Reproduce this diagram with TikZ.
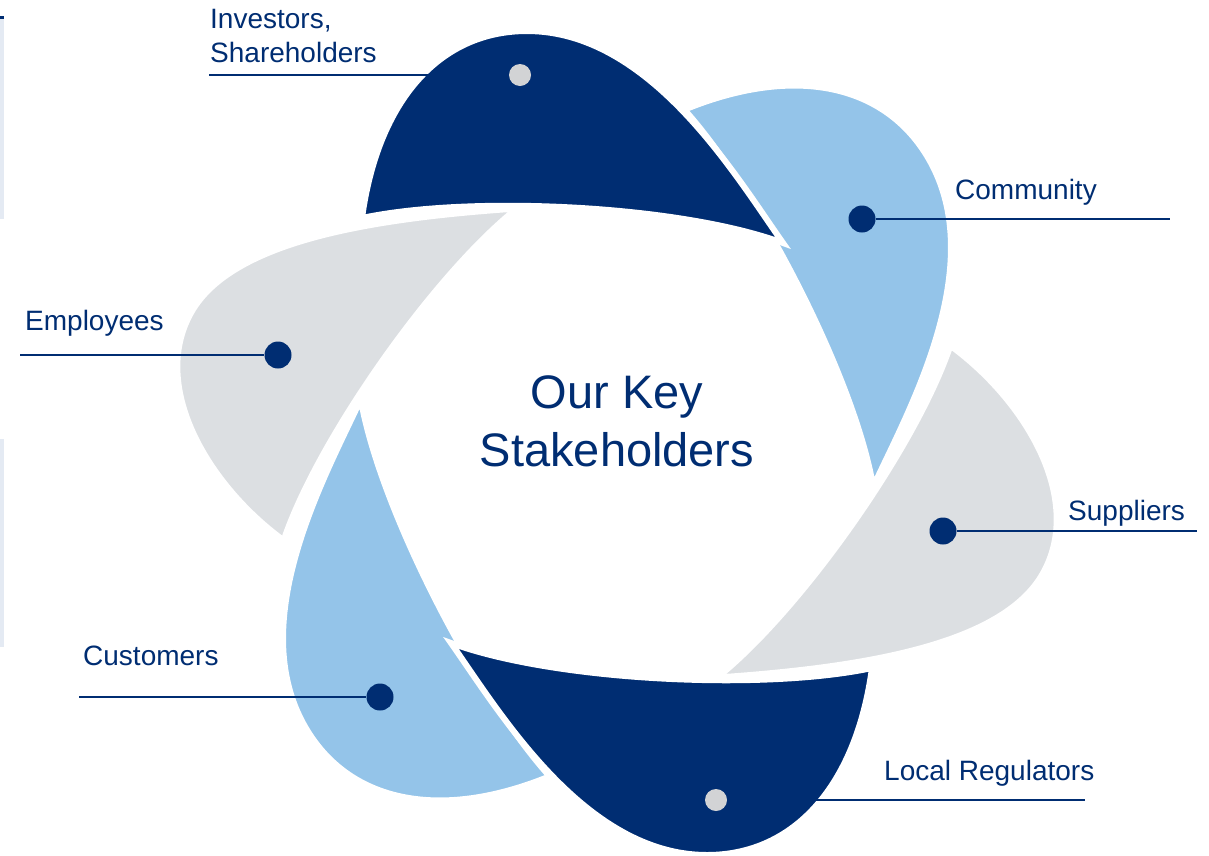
\documentclass[tikz,border=0pt]{standalone}
\usepackage{fontspec}
\setmainfont{Liberation Sans}
\usetikzlibrary{positioning}
\definecolor{sknavy}{RGB}{0,45,114}
\definecolor{skblue}{RGB}{148,196,233}
\definecolor{skgray}{RGB}{220,223,226}
\definecolor{skdot}{RGB}{210,211,213}
\definecolor{skedge}{RGB}{228,234,243}

\begin{document}
\begin{tikzpicture}[x=1pt, y=-1pt,
  petal/.style={draw=white, line width=6pt},
  dot/.style={circle, fill=sknavy, minimum size=27pt, inner sep=0pt},
  lbl/.style={anchor=base west, inner sep=0pt, align=left, text=sknavy,
              font=\fontsize{28}{34}\selectfont},
  leader/.style={sknavy, line width=1.4pt}]
  \path[use as bounding box] (0,0) rectangle (1209,855);
  \coordinate (c) at (617,443);

  % Strips at the left edge
  \fill[skedge] (0,17) rectangle (4,219);
  \fill[sknavy] (0,16) rectangle (4,19);
  \fill[skedge] (0,439) rectangle (4,647);

  % Grey petals (a little larger)
  \path[petal, fill=skgray, rotate around={-120:(c)}] (770,239)
    .. controls (690,120) and (600,8) .. (517,9)
    .. controls (432,10) and (376,110) .. (366,203)
    .. controls (470,182) and (670,200) .. cycle;
  \path[petal, fill=skgray, rotate around={-300:(c)}] (770,239)
    .. controls (690,120) and (600,8) .. (517,9)
    .. controls (432,10) and (376,110) .. (366,203)
    .. controls (470,182) and (670,200) .. cycle;

  % Light blue petals
  \path[petal, fill=skblue, rotate around={-60:(c)}] (783,243)
    .. controls (735,175) and (650,31) .. (527,31)
    .. controls (440,31) and (378,100) .. (362,218)
    .. controls (470,195) and (680,205) .. cycle;
  \path[petal, fill=skblue, rotate around={-240:(c)}] (783,243)
    .. controls (735,175) and (650,31) .. (527,31)
    .. controls (440,31) and (378,100) .. (362,218)
    .. controls (470,195) and (680,205) .. cycle;

  % Dark petals on top
  \path[petal, fill=sknavy] (783,243)
    .. controls (735,175) and (650,31) .. (527,31)
    .. controls (440,31) and (378,100) .. (362,218)
    .. controls (470,195) and (680,205) .. cycle;
  \path[petal, fill=sknavy, rotate around={180:(c)}] (783,243)
    .. controls (735,175) and (650,31) .. (527,31)
    .. controls (440,31) and (378,100) .. (362,218)
    .. controls (470,195) and (680,205) .. cycle;

  % Dots
  \node[dot, fill=skdot, minimum size=22pt] (inv) at (520,75) {};
  \node[dot] (com) at (862,219) {};
  \node[dot] (sup) at (943,531) {};
  \node[dot, fill=skdot, minimum size=22pt] (reg) at (716,800) {};
  \node[dot] (cus) at (380,697) {};
  \node[dot] (emp) at (278,355) {};

  % Leader ends
  \coordinate (inv-e) at (209,75);
  \coordinate (com-e) at (1170,219);
  \coordinate (sup-e) at (1197,531);
  \coordinate (reg-e) at (1085,800);
  \coordinate (cus-e) at (79,697);
  \coordinate (emp-e) at (20,355);

  \draw[leader] (inv-e) -- (inv);
  \draw[leader] (com) -- (com-e);
  \draw[leader] (sup) -- (sup-e);
  \draw[leader] (reg) -- (reg-e);
  \draw[leader] (cus-e) -- (cus);
  \draw[leader] (emp-e) -- (emp);

  % Labels
  \node[lbl] (inv-l) at (210,62) {Investors,\\Shareholders};
  \node[lbl] (com-l) at (955,199) {Community};
  \node[lbl] (sup-l) at (1068,520) {Suppliers};
  \node[lbl] (reg-l) at (884,780) {Local Regulators};
  \node[lbl] (cus-l) at (83,665) {Customers};
  \node[lbl] (emp-l) at (25,330) {Employees};

  % Centre
  \node[anchor=base, inner sep=0pt, align=center, text=sknavy,
        font=\fontsize{47}{58}\selectfont] (title) at (617,466)
    {Our Key\\Stakeholders};
\end{tikzpicture}
\end{document}
